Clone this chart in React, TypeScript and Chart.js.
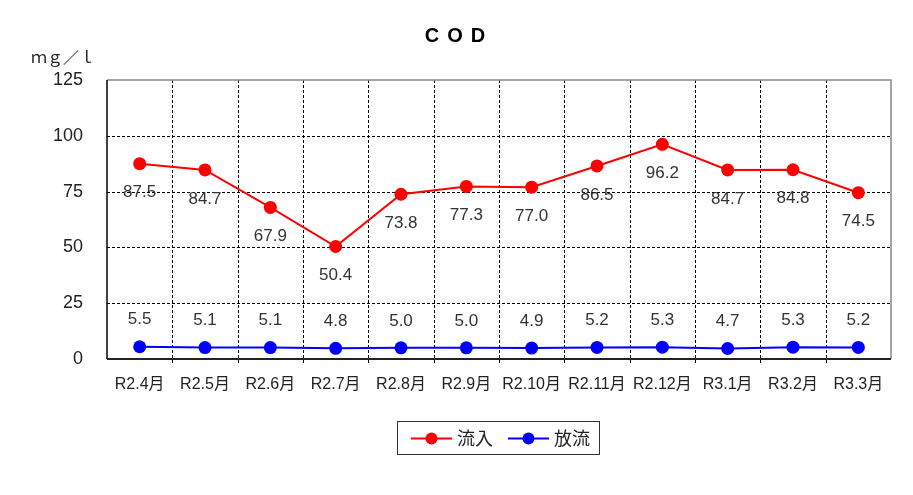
import React, { useEffect, useRef } from "react";
import { Chart, registerables } from "chart.js";

Chart.register(...registerables);

const categories = ["R2.4月", "R2.5月", "R2.6月", "R2.7月", "R2.8月", "R2.9月", "R2.10月", "R2.11月", "R2.12月", "R3.1月", "R3.2月", "R3.3月"];
const inflow = [87.5, 84.7, 67.9, 50.4, 73.8, 77.3, 77.0, 86.5, 96.2, 84.7, 84.8, 74.5];
const outflow = [5.5, 5.1, 5.1, 4.8, 5.0, 5.0, 4.9, 5.2, 5.3, 4.7, 5.3, 5.2];
const seriesNames = ["流入", "放流"];
const titleText = "COD";
const unitText = "ｍｇ／ｌ";

const FONT = "'Liberation Sans', 'Noto Sans CJK JP', sans-serif";

const px = (v: number) => Math.round(v) + 0.5;

const decorPlugin = {
  id: "decor",
  beforeDatasetsDraw(chart: any) {
    const ctx = chart.ctx;
    const area = chart.chartArea;
    const xs = chart.scales.x;
    const ys = chart.scales.y;
    ctx.save();
    ctx.strokeStyle = "#000";
    ctx.lineWidth = 1;
    ctx.setLineDash([3, 2]);
    ys.ticks.forEach((t: any) => {
      if (t.value <= ys.min || t.value >= ys.max) return;
      const y = px(ys.getPixelForValue(t.value));
      ctx.beginPath();
      ctx.moveTo(area.left, y);
      ctx.lineTo(area.right, y);
      ctx.stroke();
    });
    const n = chart.data.labels.length;
    for (let i = 1; i < n; i++) {
      const x = px((xs.getPixelForValue(i - 1) + xs.getPixelForValue(i)) / 2);
      ctx.beginPath();
      ctx.moveTo(x, area.top);
      ctx.lineTo(x, area.bottom + 5);
      ctx.stroke();
    }
    ctx.restore();
  },
  afterDatasetsDraw(chart: any) {
    const ctx = chart.ctx;
    ctx.save();
    ctx.font = `17px ${FONT}`;
    ctx.fillStyle = "#333";
    ctx.textAlign = "center";
    ctx.textBaseline = "middle";
    chart.data.datasets.forEach((ds: any, i: number) => {
      const meta = chart.getDatasetMeta(i);
      meta.data.forEach((pt: any, j: number) => {
        const v = ds.data[j];
        const y = i === 0 ? pt.y + 29 : pt.y - 27;
        ctx.fillText(v.toFixed(1), pt.x, y);
      });
    });
    ctx.restore();
  },
  afterDraw(chart: any) {
    const ctx = chart.ctx;
    const area = chart.chartArea;
    ctx.save();
    // title with letter spacing
    ctx.font = `bold 20px ${FONT}`;
    ctx.fillStyle = "#000";
    ctx.textAlign = "left";
    ctx.textBaseline = "middle";
    const letters = titleText.split("");
    const gap = 8;
    const widths = letters.map((c) => ctx.measureText(c).width);
    const total = widths.reduce((a, b) => a + b, 0) + gap * (letters.length - 1);
    let tx = 455 - total / 2;
    letters.forEach((c, i) => {
      ctx.fillText(c, tx, 36);
      tx += widths[i] + gap;
    });
    // unit
    ctx.font = `16px 'Noto Sans CJK JP', sans-serif`;
    ctx.fillStyle = "#222";
    ctx.textAlign = "left";
    ctx.fillText(unitText, 31, 57);
    // axes borders
    ctx.strokeStyle = "#888";
    ctx.lineWidth = 1.5;
    ctx.beginPath();
    ctx.moveTo(area.left, area.top);
    ctx.lineTo(area.right, area.top);
    ctx.lineTo(area.right, area.bottom);
    ctx.stroke();
    ctx.strokeStyle = "#000";
    ctx.lineWidth = 1.5;
    ctx.beginPath();
    ctx.moveTo(area.left, area.top);
    ctx.lineTo(area.left, area.bottom);
    ctx.stroke();
    ctx.strokeStyle = "#222";
    ctx.lineWidth = 2;
    ctx.beginPath();
    ctx.moveTo(area.left, area.bottom);
    ctx.lineTo(area.right, area.bottom);
    ctx.stroke();
    // legend
    const lx = 397, ly = 421, lw = 202, lh = 33;
    ctx.fillStyle = "#fff";
    ctx.fillRect(lx, ly, lw, lh);
    ctx.strokeStyle = "#333";
    ctx.lineWidth = 1;
    ctx.strokeRect(lx + 0.5, ly + 0.5, lw, lh);
    const items = chart.data.datasets;
    const starts = [411, 508];
    items.forEach((ds: any, i: number) => {
      const sx = starts[i];
      const cy = ly + lh / 2 + 1;
      ctx.strokeStyle = ds.borderColor;
      ctx.lineWidth = 2;
      ctx.beginPath();
      ctx.moveTo(sx, cy);
      ctx.lineTo(sx + 41, cy);
      ctx.stroke();
      ctx.fillStyle = ds.backgroundColor;
      ctx.beginPath();
      ctx.arc(sx + 20.5, cy, 6, 0, Math.PI * 2);
      ctx.fill();
      ctx.fillStyle = "#222";
      ctx.font = `18px 'Noto Sans CJK JP', sans-serif`;
      ctx.textAlign = "left";
      ctx.textBaseline = "middle";
      ctx.fillText(ds.label, sx + 46, cy);
    });
    ctx.restore();
  },
};

export default function App() {
  const ref = useRef<HTMLCanvasElement>(null);
  useEffect(() => {
    document.body.style.margin = "0";
    const chart = new Chart(ref.current!, {
      type: "line",
      data: {
        labels: categories,
        datasets: [
          {
            label: seriesNames[0],
            data: inflow,
            borderColor: "#ff0000",
            backgroundColor: "#ff0000",
            borderWidth: 2,
            pointRadius: 6.5,
            pointBorderWidth: 0,
            pointBackgroundColor: "#ff0000",
            tension: 0,
          },
          {
            label: seriesNames[1],
            data: outflow,
            borderColor: "#0000ff",
            backgroundColor: "#0000ff",
            borderWidth: 2,
            pointRadius: 6.5,
            pointBorderWidth: 0,
            pointBackgroundColor: "#0000ff",
            tension: 0,
          },
        ],
      },
      options: {
        responsive: false,
        animation: false,
        devicePixelRatio: 1,
        layout: { padding: { left: 47, top: 80, right: 22, bottom: 0 } },
        plugins: {
          legend: { display: false },
          title: { display: false },
          tooltip: { enabled: false },
        },
        scales: {
          x: {
            offset: true,
            grid: { display: false, drawTicks: false },
            border: { display: false },
            ticks: {
              color: "#222",
              font: { size: 16, family: FONT },
              padding: 16,
              maxRotation: 0,
              autoSkip: false,
            },
            afterFit(scale: any) {
              scale.height = 136;
            },
          },
          y: {
            min: 0,
            max: 125,
            ticks: {
              stepSize: 25,
              color: "#222",
              font: { size: 18, family: FONT },
              padding: 24,
            },
            grid: { display: false, drawTicks: false },
            border: { display: false },
            afterFit(scale: any) {
              scale.width = 60;
            },
          },
        },
      },
      plugins: [decorPlugin],
    });
    return () => chart.destroy();
  }, []);
  return <canvas ref={ref} width={913} height={495} style={{ display: "block" }} />;
}
